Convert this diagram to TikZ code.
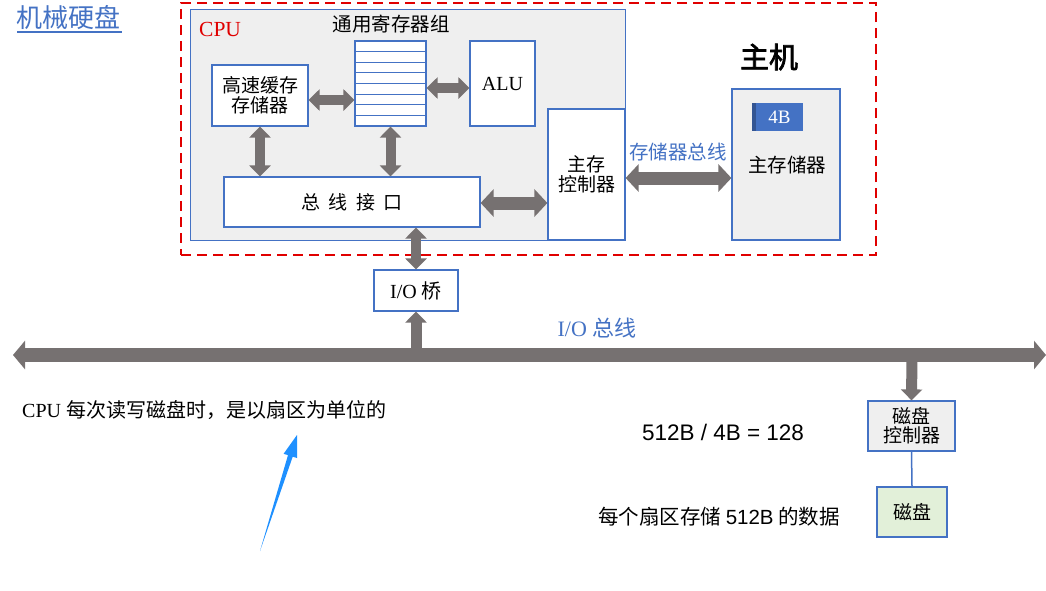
\documentclass[tikz,border=0pt]{standalone}
\usepackage{fontspec}
\setmainfont{Liberation Serif}
\newfontfamily\cjk{Noto Sans CJK SC}
\newfontfamily\cjkb[FakeBold=2.5]{Noto Sans CJK SC}
\newfontfamily\sans{Liberation Sans}
\usetikzlibrary{arrows.meta}
\definecolor{bblue}{HTML}{4472C4}
\definecolor{agray}{HTML}{767171}
\definecolor{lgray}{HTML}{EFEFEF}
\definecolor{lgreen}{HTML}{E2F0D9}
\definecolor{hred}{HTML}{E00000}
\definecolor{pblue}{HTML}{1E90FF}
\tikzset{
  box/.style={draw=bblue, line width=1.2pt, fill=white, inner sep=0pt, align=center,
    font=\cjk\fontsize{19}{23}\selectfont},
  gar/.style={draw=agray, line width=10pt,
    {Triangle[width=21pt,length=11pt]}-{Triangle[width=21pt,length=11pt]}},
  garbig/.style={draw=agray, line width=13pt,
    {Triangle[width=27pt,length=13pt]}-{Triangle[width=27pt,length=13pt]}},
  gbus/.style={draw=agray, line width=14pt,
    {Triangle[width=28pt,length=12pt]}-{Triangle[width=28pt,length=12pt]}},
  gup/.style={draw=agray, line width=11pt, -{Triangle[width=21pt,length=11pt]}},
  lbl/.style={inner sep=0pt},
}
\begin{document}
\begin{tikzpicture}[x=1pt,y=-1pt]
\useasboundingbox[fill=white] (0,0) rectangle (1046,590);
% host
\node[draw=hred, dash pattern=on 10pt off 6pt, line width=2.4pt, minimum width=695pt, minimum height=252pt, inner sep=0pt] (host) at (528.5,129) {};
% CPU
\node[draw=bblue, line width=1pt, fill=lgray, minimum width=435pt, minimum height=231pt, inner sep=0pt] (cpu) at (407.5,124.5) {};
\node[lbl, anchor=west, text=hred, font=\fontsize{21.5}{24}\selectfont] (cpul) at (199,29) {CPU};
\node[lbl, font=\cjk\fontsize{19.5}{22}\selectfont] (regl) at (391,24) {通用寄存器组};
% boxes
\node[box, minimum width=96pt, minimum height=61pt] (cache) at (260,95.5) {高速缓存\\[-3pt]存储器};
\node[box, minimum width=71pt, minimum height=85pt] (reg) at (390.5,83.5) {};
\foreach \k in {1,...,7} \draw[bblue, line width=1pt] (355,41+\k*10.625) -- (426,41+\k*10.625);
\node[box, minimum width=65pt, minimum height=85pt, font=\fontsize{20}{22}\selectfont] (alu) at (502.5,83.5) {ALU};
\node[box, minimum width=256pt, minimum height=50pt] (bi) at (352,202) {总\hspace{0.45em}线\hspace{0.45em}接\hspace{0.45em}口};
\node[box, minimum width=77pt, minimum height=131pt] (mc) at (586.5,174.5) {主存\\[-3pt]控制器};
\node[box, fill=lgray, minimum width=108pt, minimum height=151pt] (mm) at (786,164.5) {};
\node[lbl, font=\cjk\fontsize{19.5}{22}\selectfont] (mml) at (787,165) {主存储器};
\fill[bblue!75!black] (752,103) rectangle (756,131);
\node[fill=bblue, minimum width=47pt, minimum height=28pt, inner sep=0pt, text=white, font=\fontsize{19}{20}\selectfont] (fb) at (779.5,117) {4B};
\node[lbl, font=\cjkb\fontsize{29}{32}\selectfont] (hostl) at (769,57) {主机};
\node[lbl, text=bblue, font=\cjk\fontsize{19.5}{22}\selectfont] (mbl) at (678,152) {存储器总线};
% internal arrows
\draw[gar] (cache.east |- 0,100) -- (reg.west |- 0,100);
\draw[gar] (reg.east |- 0,88) -- (alu.west |- 0,88);
\draw[gar] (cache.south) -- (cache.south |- bi.north);
\draw[gar] (reg.south) -- (reg.south |- bi.north);
\draw[garbig] (bi.east |- 0,203) -- (mc.west |- 0,203);
\draw[garbig] (mc.east |- 0,178) -- (mm.west |- 0,178);
% I/O bridge
\node[box, minimum width=84pt, minimum height=41pt, font=\fontsize{20}{22}\selectfont] (iob) at (416,290.5) {I/O {\cjk 桥}};
\draw[gar] (bi.south -| iob.north) -- (iob.north);
% I/O bus
\coordinate (busL) at (13,355);
\coordinate (busR) at (1046,355);
\coordinate (j1) at (416,355);
\coordinate (j2) at (912,355);
\draw[gbus] (busL) -- (busR);
\draw[gup] (j1) -- (iob.south);
\node[lbl, text=bblue, font=\fontsize{22}{24}\selectfont] (iobl) at (597,328) {I/O {\cjk 总线}};
% disk
\node[box, fill=lgray, minimum width=87pt, minimum height=50pt] (dc) at (911.5,426) {磁盘\\[-4pt]控制器};
\draw[gup] (j2) -- (dc.north);
\node[box, fill=lgreen, minimum width=70pt, minimum height=50pt] (disk) at (912,512) {磁盘};
\draw[bblue, line width=1.5pt] (dc.south) -- (disk.north);
% texts
\node[lbl, anchor=west, text=bblue, font=\cjk\fontsize{26}{28}\selectfont] (title) at (16,18) {机械硬盘};
\draw[bblue, line width=1.2pt] (17,32) -- (122,32);
\node[lbl, anchor=west, font=\fontsize{20}{22}\selectfont] (note) at (22,410) {CPU {\cjk 每次读写磁盘时，是以扇区为单位的}};
\node[lbl, font=\sans\fontsize{22.5}{24}\selectfont] (calc) at (723,432) {512B / 4B = 128};
\node[lbl, anchor=west, font=\cjk\fontsize{20.5}{22}\selectfont] (sect) at (598,517) {每个扇区存储 {\sans 512B} 的数据};
% blue pointer
\fill[pblue] (260,551) -- (288,455.1) -- (283.6,453.8) -- (297,435) -- (297,458) -- (292.7,456.7) -- cycle;
\end{tikzpicture}
\end{document}
